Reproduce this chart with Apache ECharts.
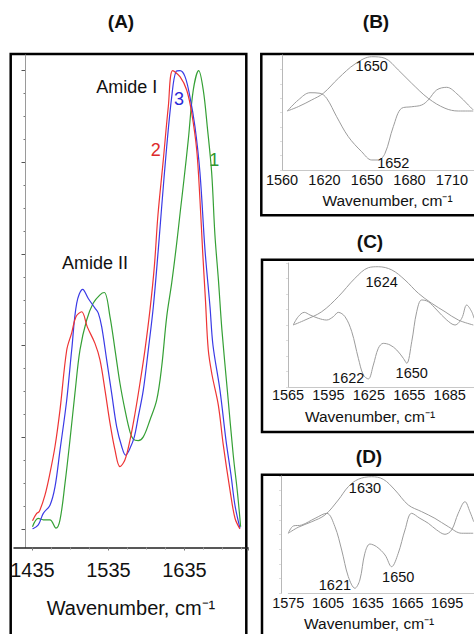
<!DOCTYPE html>
<html><head><meta charset="utf-8">
<script src="https://cdn.jsdelivr.net/npm/echarts@6/dist/echarts.min.js"></script>
<style>html,body{margin:0;padding:0;background:#fff}#c{width:474px;height:634px}</style>
</head><body><div id="c"></div>
<script>
// ---------- Panel A (wavenumber, normalized absorbance) ----------
const ticksA = [1435, 1535, 1635];
const redX = [1435,1440.5,1443.9,1451.4,1458,1464.6,1471.2,1480,1486.6,1492.2,1499.7,1507.1,1517.2,1523.8,1530.4,1537,1543.6,1550.1,1556.7,1563.3,1569.9,1576.4,1583,1589.6,1595.3,1600.1,1607.1,1613.7,1619.5,1629.1,1637.9,1644.5,1651.1,1655.4,1658.8,1662.6,1666.3,1671.3,1679.5,1686.1,1694.9,1701.4,1708];
const redY = [0.018,0.034,0.038,0.074,0.122,0.18,0.26,0.39,0.428,0.463,0.474,0.441,0.405,0.369,0.303,0.231,0.172,0.136,0.151,0.194,0.252,0.318,0.391,0.478,0.572,0.685,0.805,0.921,1.0,0.987,0.958,0.908,0.827,0.718,0.609,0.5,0.391,0.336,0.271,0.183,0.085,0.024,0.0];
const blueX = [1435,1442.6,1449.2,1458,1464.6,1471.2,1480,1486.6,1493.2,1501.1,1508.4,1517.2,1521.6,1526.1,1532.6,1539.2,1545.8,1552.4,1557.6,1563.3,1569,1574.2,1580.8,1587.4,1594,1600.5,1605,1611.6,1618.2,1623.8,1629.1,1635.7,1642.2,1648.8,1655.4,1662,1668.6,1672.5,1681.7,1689.6,1696.2,1701.4,1708];
const blueY = [0.0,0.009,0.034,0.052,0.092,0.172,0.281,0.391,0.493,0.523,0.503,0.482,0.471,0.441,0.369,0.296,0.223,0.18,0.161,0.176,0.201,0.245,0.303,0.391,0.485,0.609,0.703,0.834,0.943,0.998,1.0,0.987,0.943,0.878,0.777,0.609,0.485,0.401,0.303,0.194,0.118,0.052,0.002];
const greenX = [1435,1442.6,1449.2,1458,1465.9,1471.2,1477.8,1484.3,1490.9,1497.5,1506.3,1515,1523.8,1529.5,1537,1543.6,1550.1,1556.7,1563.3,1567.6,1574.2,1580.8,1589.6,1598.4,1605,1611.6,1618.2,1624.5,1629.7,1634.3,1640,1646.6,1653.7,1659.7,1665,1670.8,1675.1,1679.7,1684.3,1691.6,1699.2,1704.7,1708.9];
const greenY = [0.005,0.023,0.02,0.02,0.002,0.02,0.1,0.194,0.297,0.391,0.456,0.493,0.511,0.516,0.463,0.391,0.318,0.26,0.212,0.196,0.193,0.201,0.238,0.281,0.354,0.463,0.537,0.62,0.696,0.762,0.849,0.958,1.0,0.958,0.878,0.777,0.641,0.543,0.434,0.299,0.161,0.08,0.005];

// ---------- Panel B (axis positions of the printed labels) ----------
const ticksB = ['1560', '1620', '1650', '1680', '1710'];
const bUpX = [0.125,0.384,0.699,0.972,1.325,1.718,2.11,2.424,2.736,3.052,3.442,3.835,4.148,4.501];
const bUpY = [0.513,0.551,0.609,0.667,0.797,0.922,0.985,0.971,0.870,0.754,0.623,0.537,0.513,0.513];
const bLowX = [0.125,0.384,0.659,0.894,1.052,1.287,1.56,1.875,2.111,2.266,2.424,2.619,2.816,3.052,3.287,3.442,3.64,3.875,4.148,4.384,4.501];
const bLowY = [0.513,0.609,0.672,0.667,0.623,0.463,0.29,0.159,0.087,0.087,0.145,0.377,0.537,0.55,0.565,0.609,0.696,0.719,0.652,0.565,0.522];

// ---------- Panel C ----------
const ticksC = [1565, 1595, 1625, 1655, 1685];
const cUpX = [1568.9,1577.6,1590,1602.3,1614.7,1624.6,1632,1642,1651.8,1661.7,1671.6,1681.5,1691.4,1702.5];
const cUpY = [0.5,0.54,0.607,0.728,0.877,0.962,0.97,0.944,0.863,0.756,0.675,0.607,0.54,0.5];
const cLowX = [1568.9,1572.6,1577.1,1581.3,1587.5,1593.7,1598.6,1602.3,1607.3,1612.3,1617.2,1620.9,1624.6,1628.3,1632,1635.7,1640.7,1645.7,1650.6,1653.1,1656.8,1660.5,1664.2,1669.1,1675.4,1682.8,1688.9,1693.9,1697.6,1701.3,1703];
const cLowY = [0.5,0.567,0.602,0.581,0.554,0.54,0.567,0.602,0.567,0.446,0.231,0.097,0.065,0.177,0.312,0.352,0.339,0.298,0.231,0.191,0.365,0.607,0.702,0.688,0.621,0.54,0.5,0.554,0.661,0.607,0.554];

// ---------- Panel D ----------
const ticksD = [1575, 1605, 1635, 1665, 1695];
const dUpX = [1575,1582.5,1592.7,1602.7,1612.7,1620.3,1627.8,1637.9,1646.7,1655.5,1665.6,1675.7,1685.7,1695.8,1705.9,1714.6];
const dUpY = [0.512,0.563,0.61,0.668,0.795,0.909,0.972,0.994,0.972,0.881,0.753,0.696,0.639,0.568,0.512,0.512];
const dLowX = [1575,1578.8,1585.1,1595.2,1604,1610.2,1615.3,1620.3,1625.3,1629,1632.8,1636.6,1641.7,1648,1653,1658,1663.1,1668.1,1674.4,1680.7,1687,1693.3,1698.3,1703.3,1708.4,1712.1,1715];
const dLowY = [0.512,0.574,0.582,0.639,0.682,0.568,0.369,0.142,0.043,0.113,0.341,0.42,0.397,0.327,0.227,0.341,0.54,0.682,0.639,0.597,0.54,0.503,0.54,0.682,0.781,0.696,0.61];

const FONT = "'Liberation Sans', Arial, Helvetica, sans-serif";
const NAME = 'Wavenumber, cm\u207B\u00B9';
const pairs = (xs, ys) => xs.map((x, i) => [x, ys[i]]);

function mp(text, coord, color, size) {
  return { coord: coord, label: { show: true, position: 'inside', formatter: text, color: color, fontSize: size, fontFamily: FONT } };
}
function markPts(items) {
  return { symbol: 'circle', symbolSize: 2, itemStyle: { color: 'rgba(0,0,0,0)' }, silent: true, data: items };
}
const off = { show: false };
function frameY(grid, color, offset) {
  return { gridIndex: grid, type: 'value', min: 0, max: 1, offset: offset || 0,
    axisLine: { show: true, onZero: false, lineStyle: { color: color, width: 1 } },
    axisTick: off, axisLabel: off, splitLine: off };
}
function smallX(grid, min, max, interval, fmt, margin, nameGap, pad) {
  return { gridIndex: grid, type: 'value', min: min, max: max, interval: interval,
    axisLine: { show: true, onZero: false, lineStyle: { color: '#c8c8c8', width: 1 } },
    axisTick: off, splitLine: off,
    axisLabel: { margin: margin, fontSize: 14.5, color: '#111', fontFamily: FONT, formatter: fmt, showMaxLabel: false },
    name: NAME, nameLocation: 'middle', nameGap: nameGap,
    nameTextStyle: { fontSize: 15.5, color: '#111', fontFamily: FONT, padding: pad } };
}
function smallY(grid, offset) {
  return { gridIndex: grid, type: 'value', min: 0, max: 1, interval: 0.125, offset: offset || 0,
    axisLine: { show: true, onZero: false, lineStyle: { color: '#b8b8b8', width: 1 } },
    axisTick: { show: true, length: 2, lineStyle: { color: '#dddddd' } },
    axisLabel: off, splitLine: off };
}
function gray(x, y, xi, yi, marks) {
  const s = { type: 'line', xAxisIndex: xi, yAxisIndex: yi, data: pairs(x, y), showSymbol: false, smooth: 0.35,
    lineStyle: { color: '#9c9c9c', width: 1 } };
  if (marks) s.markPoint = markPts(marks);
  return s;
}

const chart = echarts.init(document.getElementById('c'), null, { renderer: 'svg' });
const option = {
  animation: false,
  backgroundColor: '#ffffff',
  textStyle: { fontFamily: FONT },
  grid: [
    { left: 14, top: 55, width: 234, height: 492.5 },
    { left: 32.5, top: 70.7, width: 215.5, height: 458.3 },
    { left: 282, top: 55, width: 192, height: 115 },
    { left: 288, top: 263, width: 186, height: 124 },
    { left: 288.3, top: 476, width: 185.7, height: 117.3 }
  ],
  xAxis: [
    { gridIndex: 0, type: 'value', min: 0, max: 1,
      axisLine: { show: true, onZero: false, lineStyle: { color: '#222', width: 1.5 } },
      axisTick: off, axisLabel: off, splitLine: off,
      name: NAME, nameLocation: 'middle', nameGap: 50,
      nameTextStyle: { fontSize: 20, color: '#111', fontFamily: FONT } },
    { gridIndex: 1, type: 'value', min: 1435, max: 1718.6, interval: 100, offset: 18.5,
      axisLine: { show: false, onZero: false },
      axisTick: { show: true, length: 3, lineStyle: { color: '#777' } },
      minorTick: { show: true, splitNumber: 4, length: 2, lineStyle: { color: '#999' } },
      axisLabel: { margin: 12, fontSize: 20, color: '#111', fontFamily: FONT, showMaxLabel: false,
        formatter: v => ticksA.includes(v) ? String(v) : '' },
      splitLine: off },
    smallX(2, 0, 4.518, 1, v => (ticksB[v] !== undefined ? ticksB[v] : ''), 2.5, 22, [0, 0, 0, 19]),
    smallX(3, 1565, 1703, 30, v => ticksC.includes(v) ? String(v) : '', 0.5, 21, [0, 22, 0, 0]),
    smallX(4, 1575, 1715.2, 30, v => ticksD.includes(v) ? String(v) : '', 2, 22.5, [0, 24, 0, 0])
  ],
  yAxis: [
    frameY(0, '#9a9a9a', -11),
    { gridIndex: 1, type: 'value', min: 0, max: 1, interval: 0.2, offset: 7.5,
      axisLine: { show: false, onZero: false },
      axisTick: { show: true, length: 3.5, lineStyle: { color: '#555' } },
      minorTick: { show: true, splitNumber: 4, length: 1.5, lineStyle: { color: '#777' } },
      axisLabel: off, splitLine: off },
    smallY(2, 0),
    smallY(3, 0),
    smallY(4, 7.3)
  ],
  series: [
    { type: 'line', name: '1', xAxisIndex: 1, yAxisIndex: 1, data: pairs(greenX, greenY), showSymbol: false, smooth: 0.35,
      lineStyle: { color: '#35a035', width: 1.2 },
      markPoint: markPts([mp('1', [1674.2, 0.805], '#2f962f', 18)]) },
    { type: 'line', name: '3', xAxisIndex: 1, yAxisIndex: 1, data: pairs(blueX, blueY), showSymbol: false, smooth: 0.35,
      lineStyle: { color: '#3a3ae6', width: 1.2 },
      markPoint: markPts([mp('3', [1627.8, 0.938], '#2a2ad8', 18)]) },
    { type: 'line', name: '2', xAxisIndex: 1, yAxisIndex: 1, data: pairs(redX, redY), showSymbol: false, smooth: 0.35,
      lineStyle: { color: '#ee3434', width: 1.2 },
      markPoint: markPts([
        mp('2', [1597.1, 0.827], '#dd2a2a', 18),
        mp('Amide I', [1558.9, 0.965], '#111', 18),
        mp('Amide II', [1517.2, 0.58], '#111', 18)
      ]) },
    gray(bUpX, bUpY, 2, 2, [mp('1650', [2.111, 0.904], '#111', 14.5)]),
    gray(bLowX, bLowY, 2, 2, [mp('1652', [2.619, 0.058], '#111', 14.5)]),
    gray(cUpX, cUpY, 3, 3, [mp('1624', [1634.5, 0.849], '#111', 14.5)]),
    gray(cLowX, cLowY, 3, 3, [mp('1622', [1609.7, 0.07], '#111', 14.5), mp('1650', [1656.8, 0.11], '#111', 14.5)]),
    gray(dUpX, dUpY, 4, 4, [mp('1630', [1632.9, 0.895], '#111', 14.5)]),
    gray(dLowX, dLowY, 4, 4, [mp('1621', [1610.2, 0.071], '#111', 14.5), mp('1650', [1658, 0.142], '#111', 14.5)])
  ],
  graphic: [
    { type: 'text', x: 121, y: 21, style: { text: '(A)', fontSize: 19, fontWeight: 'bold', fontFamily: FONT, fill: '#111', align: 'center', verticalAlign: 'middle' } },
    { type: 'text', x: 376, y: 21, style: { text: '(B)', fontSize: 19, fontWeight: 'bold', fontFamily: FONT, fill: '#111', align: 'center', verticalAlign: 'middle' } },
    { type: 'text', x: 370, y: 241.5, style: { text: '(C)', fontSize: 19, fontWeight: 'bold', fontFamily: FONT, fill: '#111', align: 'center', verticalAlign: 'middle' } },
    { type: 'text', x: 369, y: 456.5, style: { text: '(D)', fontSize: 19, fontWeight: 'bold', fontFamily: FONT, fill: '#111', align: 'center', verticalAlign: 'middle' } },
    { type: 'rect', shape: { x: 10.7, y: 54, width: 235.6, height: 700 }, style: { fill: 'none', stroke: '#000', lineWidth: 2.5 } },
    { type: 'rect', shape: { x: 261.3, y: 54, width: 300, height: 161.3 }, style: { fill: 'none', stroke: '#000', lineWidth: 2.5 } },
    { type: 'rect', shape: { x: 262, y: 259.7, width: 300, height: 172.3 }, style: { fill: 'none', stroke: '#000', lineWidth: 2.5 } },
    { type: 'rect', shape: { x: 262, y: 474.7, width: 300, height: 300 }, style: { fill: 'none', stroke: '#000', lineWidth: 2.5 } }
  ]
};
chart.setOption(option);
</script></body></html>
